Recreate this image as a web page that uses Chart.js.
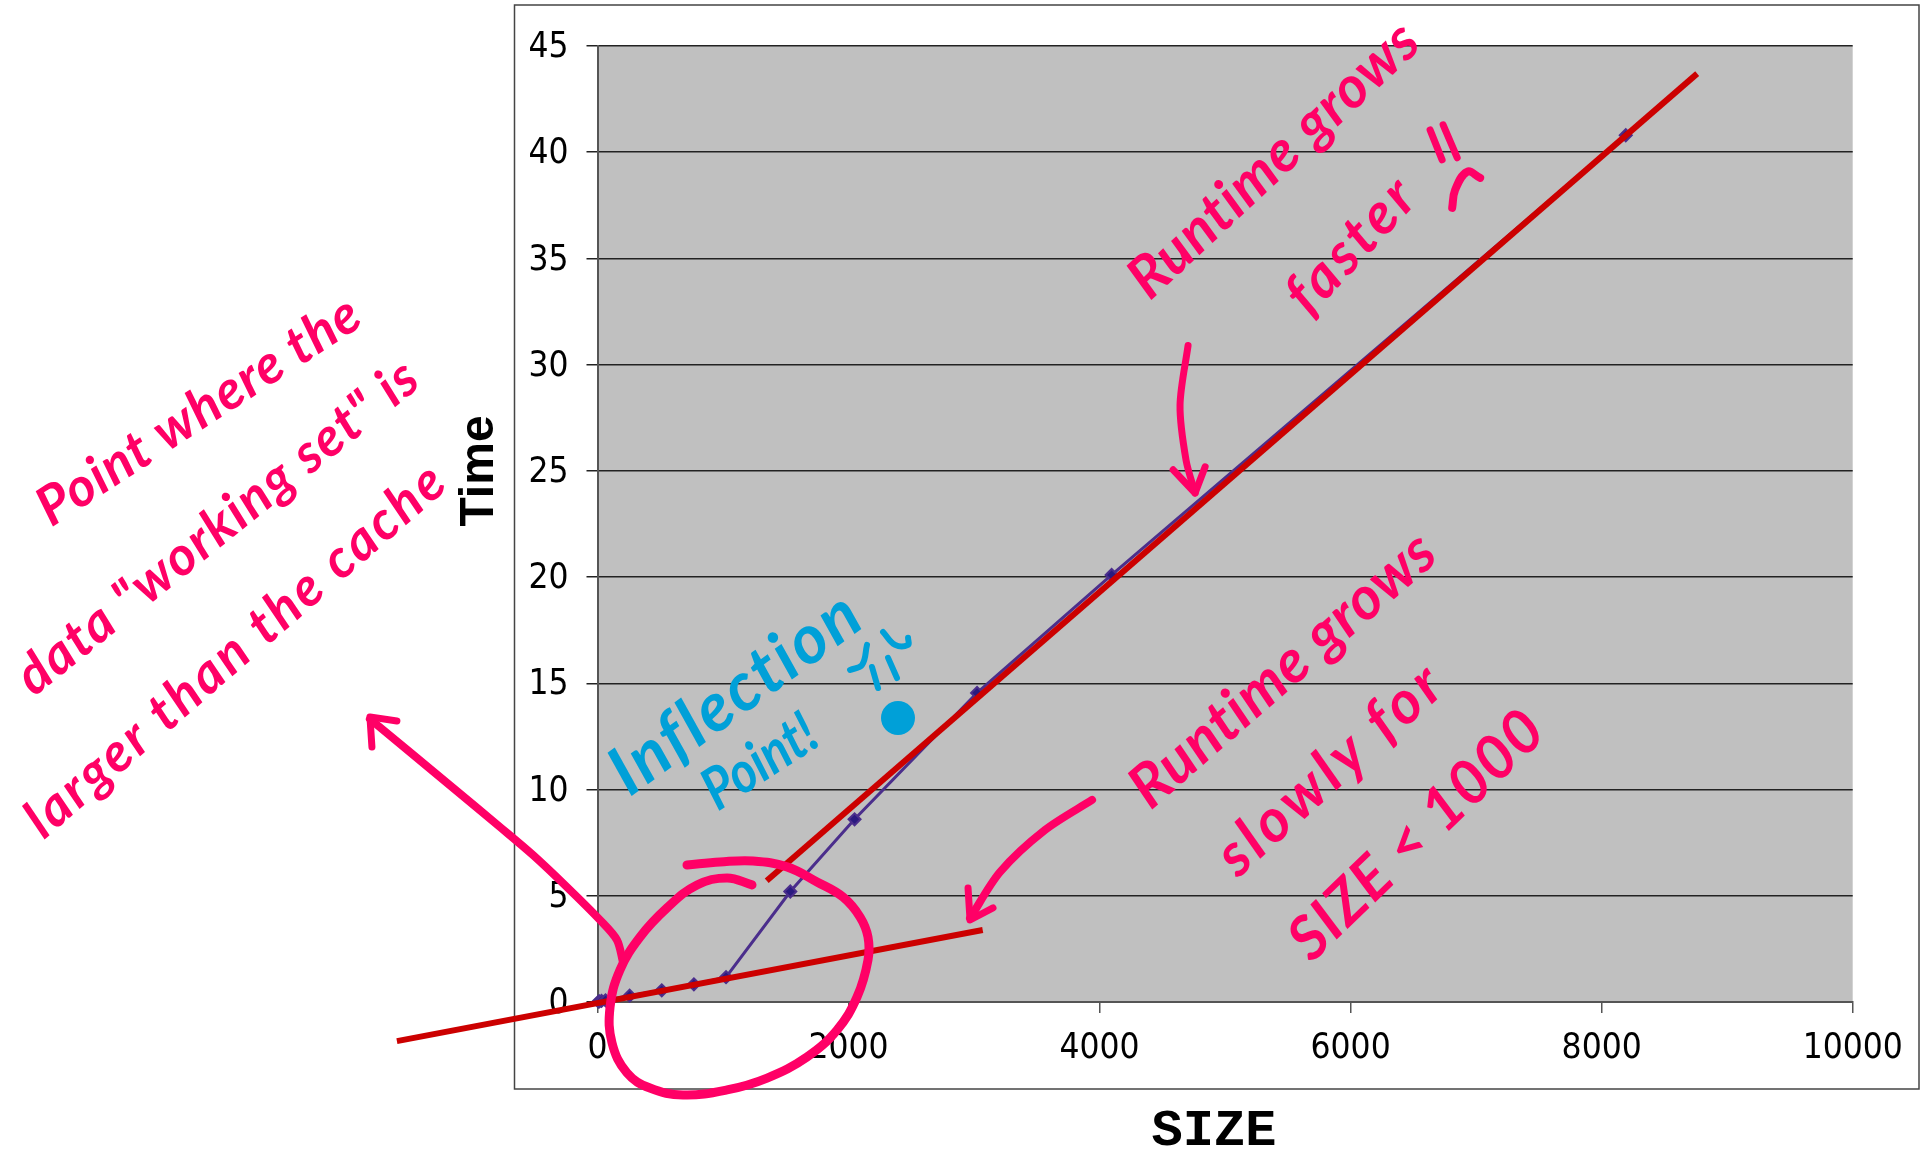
<!DOCTYPE html>
<html>
<head>
<meta charset="utf-8">
<title>Time vs SIZE</title>
<script src="https://cdn.jsdelivr.net/npm/chart.js@4/dist/chart.umd.js"></script>
<style>
  html, body { margin: 0; padding: 0; background: #fff; }
  canvas { display: block; }
</style>
</head>
<body>
<canvas id="myChart" width="1921" height="1155"></canvas>
<script>
// Measured series
const sizes = [8, 16, 32, 64, 256, 512, 768, 1024, 1536, 2048, 3024, 4096, 8192];
const times = [0.02, 0.03, 0.05, 0.08, 0.3, 0.55, 0.83, 1.17, 5.2, 8.6, 14.55, 20.1, 40.8];

// Axis ticks
const xTickStep = 2000;
const yTickStep = 5;

// Trend lines, in data units
const slowTrendX = [-1598, 3069];
const slowTrendY = [-1.84, 3.39];
const fastTrendX = [1348, 8761];
const fastTrendY = [5.71, 43.7];

// Pen strokes over the chart, in data units
const circleX = [1231, 1032, 793, 554, 339, 179, 100, 116, 235, 418, 681, 1032, 1351, 1669, 1908, 2068, 2155, 2155, 2092, 1956, 1749, 1510, 1239, 976, 713];
const circleY = [5.51, 5.84, 5.51, 4.43, 3.06, 1.51, -0.24, -1.93, -3.34, -4.05, -4.38, -4.14, -3.58, -2.59, -1.32, 0.24, 1.98, 3.06, 4.0, 4.94, 5.65, 6.36, 6.64, 6.59, 6.45];
const bigArrowX = [203, 155, 20, -243, -514, -777, -1175, -1813];
const bigArrowY = [1.88, 2.92, 3.86, 5.41, 6.92, 8.24, 10.2, 13.32];
const bigHeadX = [-1797, -1813, -1598];
const bigHeadY = [12.0, 13.42, 13.23];
const slowArrowX = [3940, 3566, 3207, 2968];
const slowArrowY = [9.51, 8.1, 6.12, 3.95];
const slowHeadX = [2952, 2968, 3151];
const slowHeadY = [5.37, 3.86, 4.43];
const fastArrowX = [4705, 4641, 4689, 4761];
const fastArrowY = [30.9, 28.1, 25.5, 23.96];
const fastHeadX = [4586, 4761, 4841];
const fastHeadY = [25.05, 23.96, 25.19];
const bangOneX = [6633, 6729];
const bangOneY = [41.05, 39.64];
const bangTwoX = [6737, 6849];
const bangTwoY = [41.29, 39.74];
const hookX = [6809, 6833, 6928, 7032];
const hookY = [37.38, 38.23, 39.08, 38.79];

const faceMouthX = [2147, 2108, 2012];
const faceMouthY = [16.81, 15.87, 15.63];
const faceTickOneX = [2187, 2235];
const faceTickOneY = [15.77, 14.78];
const faceTickTwoX = [2315, 2386];
const faceTickTwoY = [16.2, 15.25];
const faceBrowX = [2275, 2371, 2474, 2474];
const faceBrowY = [17.42, 16.81, 16.81, 17.14];
const dotX = [2394];
const dotY = [13.37];

const zip = (xs, ys) => xs.map((x, i) => ({ x: x, y: ys[i] }));

const PINK = '#ff0066';
const BLUE = '#00a0d8';
const RED = '#cc0000';
const PURPLE = '#4b2e8c';

const ink = (xs, ys, color, width, tension) => ({
  data: zip(xs, ys),
  borderColor: color,
  borderWidth: width,
  tension: tension,
  pointRadius: 0,
  borderCapStyle: 'round',
  borderJoinStyle: 'round',
  clip: false,
  order: 1
});

const trend = (xs, ys) => ({
  data: zip(xs, ys),
  borderColor: RED,
  borderWidth: 6,
  pointRadius: 0,
  clip: false,
  order: 2
});

const data = {
  datasets: [
    {
      label: 'Time',
      data: zip(sizes, times),
      borderColor: PURPLE,
      borderWidth: 3,
      pointStyle: 'rectRot',
      pointRadius: 6,
      pointBackgroundColor: '#2a1a80',
      pointBorderColor: PURPLE,
      pointBorderWidth: 2,
      clip: false,
      order: 3
    },
    trend(slowTrendX, slowTrendY),
    trend(fastTrendX, fastTrendY),
    ink(circleX, circleY, PINK, 9, 0.4),
    ink(bigArrowX, bigArrowY, PINK, 8, 0.3),
    ink(bigHeadX, bigHeadY, PINK, 7, 0),
    ink(slowArrowX, slowArrowY, PINK, 8, 0.3),
    ink(slowHeadX, slowHeadY, PINK, 7, 0),
    ink(fastArrowX, fastArrowY, PINK, 7, 0.3),
    ink(fastHeadX, fastHeadY, PINK, 7, 0),
    ink(bangOneX, bangOneY, PINK, 7, 0),
    ink(bangTwoX, bangTwoY, PINK, 7, 0),
    ink(hookX, hookY, PINK, 8, 0.4),
    ink(faceMouthX, faceMouthY, BLUE, 6, 0.4),
    ink(faceTickOneX, faceTickOneY, BLUE, 6, 0),
    ink(faceTickTwoX, faceTickTwoY, BLUE, 6, 0),
    ink(faceBrowX, faceBrowY, BLUE, 6, 0.4),
    {
      data: zip(dotX, dotY),
      showLine: false,
      pointRadius: 17,
      pointBackgroundColor: BLUE,
      pointBorderWidth: 0,
      clip: false,
      order: 1
    }
  ]
};

// Grey plot panel and the thin outer frame
const panelPlugin = {
  id: 'panel',
  beforeDraw(chart) {
    const { ctx, chartArea: a } = chart;
    ctx.save();
    ctx.fillStyle = '#c0c0c0';
    ctx.fillRect(a.left, a.top, a.right - a.left, a.bottom - a.top);
    ctx.strokeStyle = '#444';
    ctx.lineWidth = 1.5;
    ctx.strokeRect(514.5, 5, 1404.5, 1084);
    ctx.restore();
  }
};

// Axis titles sit off centre, so they are drawn here with the notes
const axisTitles = [
  ['Time', 480, 471, -90, 'bold 48px "Liberation Sans"'],
  ['SIZE', 1214, 1132, 0, 'bold 52px "Liberation Mono"']
];

// Hand written notes: text, centre x, centre y, angle, font size, colour, width to fit
const notes = [
  ['Point where the', 199, 411, -33, 54, PINK, 375],
  ['data "working set" is', 218, 527, -38.8, 54, PINK, 500],
  ['larger than the cache', 236, 650, -41, 54, PINK, 540],
  ['Runtime grows', 1274, 160, -43, 58, PINK, 375],
  ['faster', 1352, 245, -47, 58, PINK, 165],
  ['Runtime grows', 1283, 670, -41, 60, PINK, 385],
  ['slowly for', 1331, 769, -42, 60, PINK, 285],
  ['SIZE < 1000', 1417, 835, -44, 60, PINK, 330],
  ['Inflection', 736, 693, -36, 68, BLUE, 295],
  ['Point!', 760, 762, -33, 58, BLUE, 125]
];

const notesPlugin = {
  id: 'notes',
  afterDatasetsDraw(chart) {
    const { ctx } = chart;
    const put = (text, x, y, angle, font, color, fit) => {
      ctx.save();
      ctx.translate(x, y);
      ctx.rotate(angle * Math.PI / 180);
      ctx.font = font;
      ctx.fillStyle = color;
      ctx.textAlign = 'center';
      ctx.textBaseline = 'middle';
      // stretch the pen writing out to the length it has in the picture
      if (fit) {
        const spare = fit - ctx.measureText(text).width;
        if (spare > 0) ctx.letterSpacing = (spare / text.length) + 'px';
      }
      ctx.fillText(text, 0, 0, fit);
      ctx.restore();
    };
    axisTitles.forEach(([text, x, y, angle, font]) => put(text, x, y, angle, font, '#000'));
    notes.forEach(([text, x, y, angle, size, color, fit]) =>
      put(text, x, y, angle, 'italic bold ' + size + 'px Lato', color, fit));
  }
};

const tickFont = { family: '"DejaVu Sans Condensed", "DejaVu Sans"', size: 35 };

const options = {
  responsive: false,
  animation: false,
  layout: { padding: { left: 452, right: 68.3, top: 46, bottom: 0 } },
  plugins: {
    legend: { display: false },
    tooltip: { enabled: false }
  },
  scales: {
    x: {
      type: 'linear',
      min: 0,
      max: 10000,
      afterFit(scale) { scale.height = 153; },
      grid: { drawOnChartArea: false, color: '#555', lineWidth: 1.5, tickLength: 11 },
      border: { color: '#555', width: 2 },
      ticks: {
        stepSize: xTickStep,
        maxRotation: 0,
        autoSkip: false,
        padding: 15,
        color: '#000',
        font: tickFont,
        callback: (value) => String(value)
      }
    },
    y: {
      min: 0,
      max: 45,
      afterFit(scale) { scale.width = 145.5; },
      grid: { color: '#222', lineWidth: 1.5, tickLength: 11 },
      border: { color: '#555', width: 2 },
      ticks: {
        stepSize: yTickStep,
        autoSkip: false,
        padding: 18,
        labelOffset: 2,
        color: '#000',
        font: tickFont
      }
    }
  }
};

const ctx = document.getElementById('myChart');
const myChart = new Chart(ctx, {
  type: 'line',
  data: data,
  options: options,
  plugins: [panelPlugin, notesPlugin]
});
</script>
</body>
</html>
